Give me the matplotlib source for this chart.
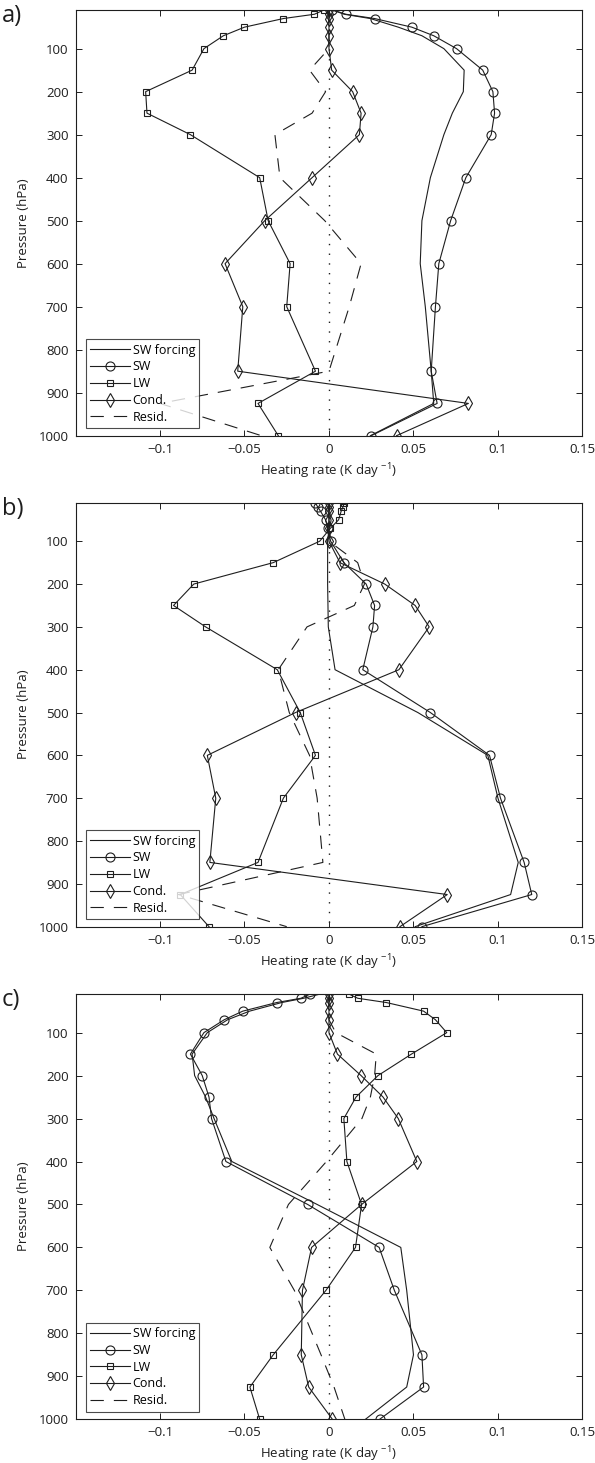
"""Heating-rate budget profiles for three cases (a, b, c)."""

import matplotlib
matplotlib.use("Agg")
import matplotlib.pyplot as plt
from matplotlib.ticker import FuncFormatter

plt.rcParams["font.family"] = ["Open Sans", "DejaVu Sans"]
plt.rcParams["mathtext.default"] = "regular"

# pressure levels (hPa), shared by all panels
PRESSURE = [10, 20, 30, 50, 70, 100, 150, 200, 250, 300, 400, 500, 600, 700, 850, 925, 1000]

# panel a
SWF_A = [0.002, 0.009, 0.0245, 0.041, 0.055, 0.068, 0.080, 0.0795, 0.073, 0.068, 0.060, 0.055,
         0.054, 0.057, 0.0605, 0.062, 0.0245]
SW_A = [0.002, 0.010, 0.027, 0.049, 0.062, 0.0755, 0.091, 0.097, 0.098, 0.096, 0.081, 0.072,
        0.065, 0.063, 0.0605, 0.064, 0.025]
LW_A = [-0.003, -0.0086, -0.027, -0.050, -0.0625, -0.074, -0.081, -0.1085, -0.1077, -0.082, -0.041,
        -0.036, -0.023, -0.025, -0.008, -0.042, -0.030]
COND_A = [0, 0, 0, 0, 0, 0, 0.0016, 0.014, 0.019, 0.018, -0.010, -0.038, -0.0615, -0.051, -0.054,
          0.0825, 0.040]
RESID_A = [0, 0, 0, 0, 0, 0, -0.0115, -0.002, -0.010, -0.032, -0.029, -0.0025, 0.019, 0.012, 0.0,
           -0.100, -0.040]

# panel b
SWF_B = [0.0, 0.0, 0.0, 0.0, 0.0, -0.0008, -0.0008, -0.0008, -0.0006, -0.0004, 0.0036, 0.0526,
         0.094, 0.100, 0.112, 0.1075, 0.051]
SW_B = [-0.008, -0.0067, -0.005, -0.002, -0.0008, 0.001, 0.0088, 0.022, 0.027, 0.026, 0.020, 0.060,
        0.095, 0.1015, 0.1155, 0.120, 0.055]
LW_B = [0.009, 0.0083, 0.0072, 0.0057, 0.0008, -0.0055, -0.033, -0.080, -0.092, -0.073, -0.0306,
        -0.017, -0.008, -0.027, -0.042, -0.088, -0.071]
COND_B = [0, 0, 0, 0, 0, 0, 0.0065, 0.033, 0.051, 0.0593, 0.0414, -0.0198, -0.072, -0.067, -0.0705,
          0.070, 0.042]
RESID_B = [0, 0, 0, 0, 0, 0, 0.017, 0.021, 0.015, -0.013, -0.030, -0.0235, -0.0115, -0.007, -0.0036,
           -0.089, -0.025]

# panel c
SWF_C = [-0.005, -0.015, -0.028, -0.047, -0.060, -0.072, -0.081, -0.0795, -0.073, -0.068, -0.0575,
         -0.007, 0.0425, 0.046, 0.050, 0.046, 0.0216]
SW_C = [-0.011, -0.0166, -0.031, -0.051, -0.062, -0.074, -0.082, -0.075, -0.071, -0.0695, -0.061,
        -0.0126, 0.0297, 0.0387, 0.055, 0.056, 0.030]
LW_C = [0.0117, 0.017, 0.034, 0.056, 0.063, 0.0697, 0.0488, 0.029, 0.016, 0.0088, 0.0106, 0.0193,
        0.0157, -0.0018, -0.033, -0.0468, -0.041]
COND_C = [0, 0, 0, 0, 0, 0, 0.005, 0.019, 0.032, 0.041, 0.052, 0.0193, -0.0103, -0.0157, -0.0164,
          -0.012, 0.002]
RESID_C = [0, 0, 0, 0, 0, 0.004, 0.028, 0.027, 0.0245, 0.0195, -0.0015, -0.024, -0.035, -0.0205,
           -0.0047, 0.003, 0.0094]

PANEL_LABELS = ["a)", "b)", "c)"]
SERIES_NAMES = ["SW forcing", "SW", "LW", "Cond.", "Resid."]
XTICKS = [-0.1, -0.05, 0, 0.05, 0.1, 0.15]
YTICKS = [100, 200, 300, 400, 500, 600, 700, 800, 900, 1000]

INK = "#1e1e1e"


def fmt_tick(v, _pos):
    return f"{v:g}".replace("-", "\u2212")


def draw_panel(ax, swf, sw, lw, cond, resid, label):
    lw_line = 0.8
    ax.plot([0, 0], [PRESSURE[0], PRESSURE[-1]], color=INK, linestyle=(0, (1, 6)), linewidth=1.0)
    ax.plot(swf, PRESSURE, color=INK, linewidth=lw_line, label=SERIES_NAMES[0])
    ax.plot(sw, PRESSURE, color=INK, linewidth=lw_line, marker="o", markersize=6.5,
            markerfacecolor="none", markeredgewidth=0.8, label=SERIES_NAMES[1])
    ax.plot(lw, PRESSURE, color=INK, linewidth=lw_line, marker="s", markersize=5,
            markerfacecolor="none", markeredgewidth=0.8, label=SERIES_NAMES[2])
    ax.plot(cond, PRESSURE, color=INK, linewidth=lw_line, marker="d", markersize=7,
            markerfacecolor="none", markeredgewidth=0.8, label=SERIES_NAMES[3])
    ax.plot(resid, PRESSURE, color=INK, linewidth=lw_line, linestyle=(0, (12, 9)),
            label=SERIES_NAMES[4])

    ax.set_xlim(-0.15, 0.15)
    ax.set_ylim(1000, 10)
    ax.set_xticks(XTICKS)
    ax.set_yticks(YTICKS)
    ax.xaxis.set_major_formatter(FuncFormatter(fmt_tick))
    ax.tick_params(direction="in", length=4, width=0.7, top=True, right=True,
                   labelsize=9.5, colors=INK, pad=5)
    for sp in ax.spines.values():
        sp.set_linewidth(0.8)
        sp.set_color(INK)
    ax.set_xlabel("Heating rate (K day $^{-1}$)", fontsize=9.5, color=INK, labelpad=4)
    ax.set_ylabel("Pressure (hPa)", fontsize=9.5, color=INK, labelpad=6)
    ax.text(-0.145, 0.985, label, transform=ax.transAxes, fontsize=17, color=INK,
            ha="left", va="center")

    leg = ax.legend(loc="lower left", bbox_to_anchor=(0.02, 0.018), fontsize=9,
                    frameon=True, fancybox=False, borderpad=0.35, labelspacing=0.3,
                    handlelength=3.2, handletextpad=0.2, borderaxespad=0.0)
    leg.get_frame().set_edgecolor(INK)
    leg.get_frame().set_linewidth(0.8)


def main():
    fig = plt.figure(figsize=(5.95, 14.63), dpi=100)
    left, width = 0.1269, 0.852
    boxes = [(0.7022, 0.2910), (0.3666, 0.2898), (0.0299, 0.2907)]
    data = [
        (SWF_A, SW_A, LW_A, COND_A, RESID_A),
        (SWF_B, SW_B, LW_B, COND_B, RESID_B),
        (SWF_C, SW_C, LW_C, COND_C, RESID_C),
    ]
    for (bottom, height), series, label in zip(boxes, data, PANEL_LABELS):
        ax = fig.add_axes([left, bottom, width, height])
        draw_panel(ax, *series, label)

    fig.savefig("out.png", dpi=100)


if __name__ == "__main__":
    main()
